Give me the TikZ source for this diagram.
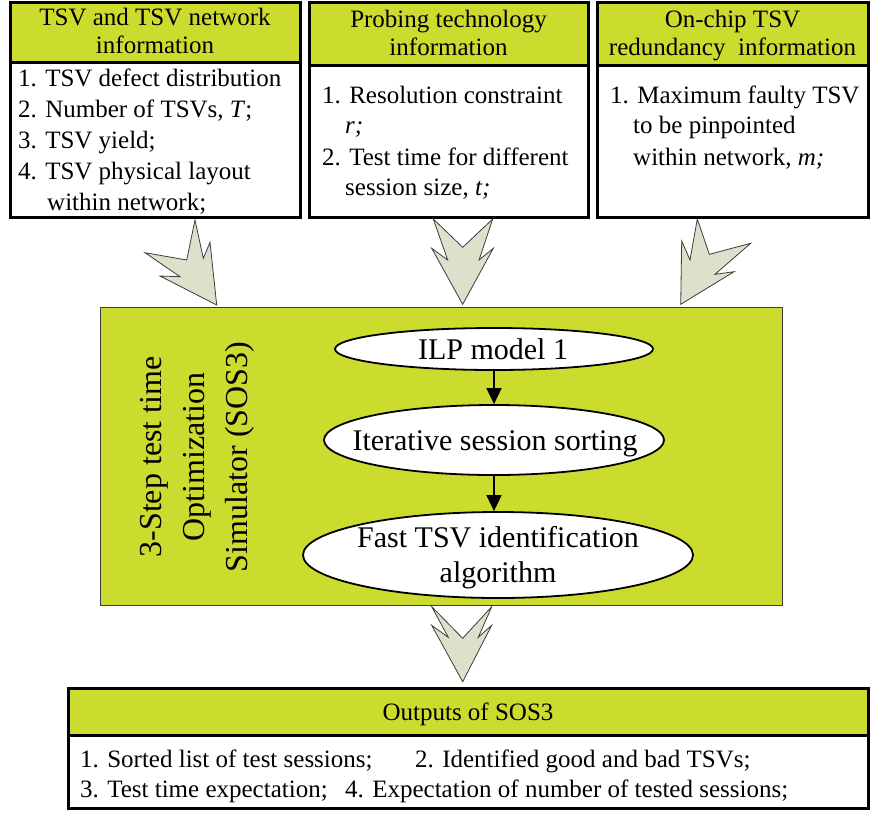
\documentclass[tikz,border=0pt]{standalone}
\usepackage{fontspec}
\setmainfont{Liberation Serif}
\usetikzlibrary{arrows.meta,shapes.geometric}

\definecolor{hdrgreen}{RGB}{204,220,46}
\definecolor{arrowfill}{RGB}{221,225,204}
\definecolor{edgegray}{RGB}{60,60,60}

\tikzset{
  boxtext/.style={anchor=base west, inner sep=0pt, font=\fontsize{25}{30}\selectfont},
  hdrtext/.style={anchor=base, inner sep=0pt, font=\fontsize{25}{30}\selectfont},
  panel/.style={draw=black, line width=3pt},
  stage/.style={ellipse, draw=black, line width=1.8pt, fill=white, inner sep=0pt},
  stagetext/.style={anchor=base, inner sep=0pt, font=\fontsize{30}{36}\selectfont},
  simtext/.style={anchor=base, rotate=90, inner sep=0pt, font=\fontsize{32}{38}\selectfont},
  blockarrow/.style={fill=arrowfill, draw=edgegray, line width=0.8pt, line join=miter},
  flow/.style={draw=black, line width=1.8pt, -{Triangle[length=16pt,width=15pt]}},
}

\begin{document}
\begin{tikzpicture}[x=1pt,y=-1pt]
\useasboundingbox (0,0) rectangle (870,812);

% ---- input panels ----
% panel 1: TSV and TSV network information
\fill[hdrgreen] (10,2) rectangle (300,62);
\draw[panel] (10,2) rectangle (300,217);
\draw[panel] (10,62) -- (300,62);
\node[hdrtext] (h1a) at (155,25) {TSV and TSV network};
\node[hdrtext] (h1b) at (155,53) {information};
\node[boxtext] (p1a) at (18,86)  {1. TSV defect distribution};
\node[boxtext] (p1b) at (18,117) {2. Number of TSVs, \textit{T};};
\node[boxtext] (p1c) at (18,148) {3. TSV yield;};
\node[boxtext] (p1d) at (18,179) {4. TSV physical layout};
\node[boxtext] (p1e) at (47,210) {within network;};

% panel 2: probing technology information
\fill[hdrgreen] (309,2) rectangle (588,65);
\draw[panel] (309,2) rectangle (588,217);
\draw[panel] (309,65) -- (588,65);
\node[hdrtext] (h2a) at (448.5,27) {Probing technology};
\node[hdrtext] (h2b) at (448.5,55) {information};
\node[boxtext] (p2a) at (322,103) {1. Resolution constraint};
\node[boxtext] (p2b) at (345,133) {\textit{r;}};
\node[boxtext] (p2c) at (322,165) {2. Test time for different};
\node[boxtext] (p2d) at (345,195) {session size, \textit{t;}};

% panel 3: on-chip redundancy information
\fill[hdrgreen] (597,2) rectangle (868,65);
\draw[panel] (597,2) rectangle (868,217);
\draw[panel] (597,65) -- (868,65);
\node[hdrtext] (h3a) at (732.5,27) {On-chip TSV};
\node[hdrtext] (h3b) at (732.5,55) {redundancy\ \ information};
\node[boxtext] (p3a) at (610,103) {1. Maximum faulty TSV};
\node[boxtext] (p3b) at (633,133) {to be pinpointed};
\node[boxtext] (p3c) at (633,165) {within network, \textit{m;}};

% ---- block arrows into the simulator ----
\draw[blockarrow] (195,220) -- (203.3,258.3) -- (210,242.3) -- (216.7,305)
  -- (160,276) -- (180,276.7) -- (145,252.7) -- (186.7,260) -- cycle;
\draw[blockarrow] (433.3,219) -- (462.7,247.3) -- (492.7,219) -- (479,260)
  -- (493.3,248.3) -- (462.7,304.3) -- (431.7,248.3) -- (447.7,260) -- cycle;
\draw[blockarrow] (697.3,219) -- (709.3,254.3) -- (750.7,243.3) -- (715,274.3)
  -- (734,271.7) -- (680.7,304.3) -- (681.7,241) -- (690,260) -- cycle;

% ---- simulator block ----
\draw[fill=hdrgreen, draw=edgegray, line width=1pt] (100,307) rectangle (782,605);
\node[simtext] (s1) at (161,457) {3-Step test time};
\node[simtext] (s2) at (204,457) {Optimization};
\node[simtext] (s3) at (247,457) {Simulator (SOS3)};

\node[stage, minimum width=318, minimum height=42] (ilp) at (494,349) {};
\node[stagetext] (ilpt) at (493,359) {ILP model 1};
\node[stage, minimum width=340, minimum height=70] (iter) at (494,440) {};
\node[stagetext] (itert) at (495,450) {Iterative session sorting};
\node[stage, minimum width=390, minimum height=86] (fast) at (498,555) {};
\node[stagetext] (fastt) at (498,547) {Fast TSV identification};
\node[stagetext] (fastu) at (498,582) {algorithm};

\draw[flow] (ilp.south) -- (ilp.south |- iter.north);
\draw[flow] (iter.south) -- (iter.south |- fast.north);

% ---- block arrow to outputs ----
\draw[blockarrow] (431.7,606.7) -- (462.7,638.3) -- (491.7,606.7) -- (478.3,637.3)
  -- (491.7,625.3) -- (462.7,681.7) -- (431.7,625.3) -- (448.3,637.3) -- cycle;

% ---- outputs panel ----
\fill[hdrgreen] (68,688) rectangle (868,735);
\draw[panel] (68,688) rectangle (868,808);
\draw[panel] (68,735) -- (868,735);
\node[hdrtext] (oh) at (468,720) {Outputs of SOS3};
\node[boxtext] (o1) at (80,767)  {1. Sorted list of test sessions;};
\node[boxtext] (o2) at (415,767) {2. Identified good and bad TSVs;};
\node[boxtext] (o3) at (80,797)  {3. Test time expectation;};
\node[boxtext] (o4) at (345,797) {4. Expectation of number of tested sessions;};
\end{tikzpicture}
\end{document}
